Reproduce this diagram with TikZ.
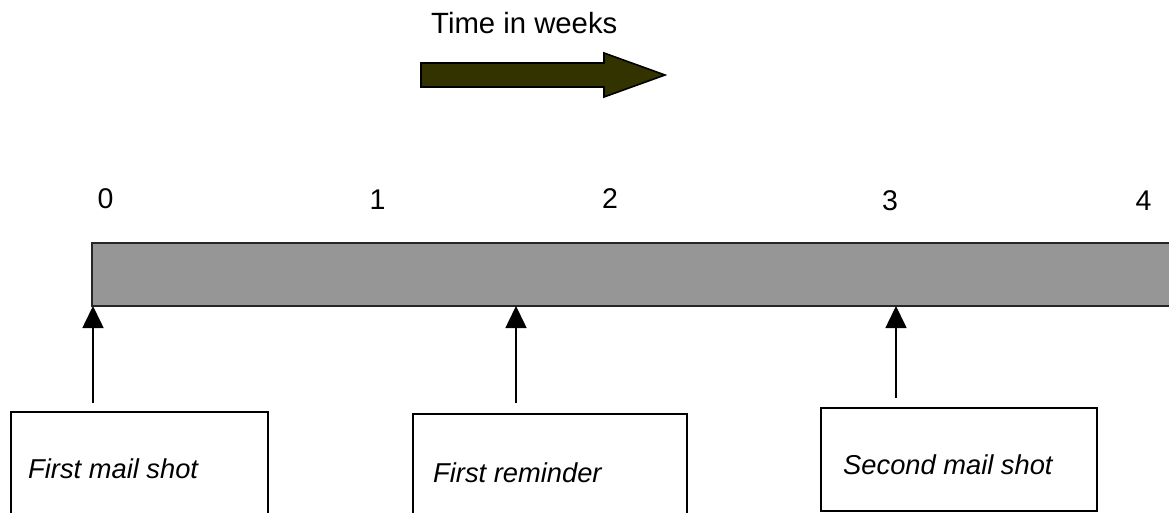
\documentclass[tikz,border=0pt]{standalone}
\usepackage{fontspec}
\setmainfont{Liberation Sans}
\usetikzlibrary{arrows.meta}
\definecolor{barfill}{HTML}{969696}
\definecolor{olive}{HTML}{333300}
\tikzset{
  bar/.style={draw=black!85, line width=1.8pt, fill=barfill, inner sep=0pt, outer sep=0pt},
  notebox/.style={draw=black, line width=1.9pt, fill=white, inner sep=0pt, outer sep=0pt, anchor=north west},
  weeknum/.style={inner sep=0pt, anchor=base, font=\fontsize{28.5}{33}\selectfont},
  notetext/.style={inner sep=0pt, anchor=base west, font=\fontsize{27.3}{31}\selectfont\itshape},
  pointer/.style={line width=1.6pt, -{Triangle[width=21pt,length=22pt]}},
}
\begin{document}
\begin{tikzpicture}[x=1pt, y=-1pt]
\useasboundingbox (0,0) rectangle (1169,513);
\clip (0,0) rectangle (1169,513);

% heading and direction arrow
\node[inner sep=0pt, anchor=base west, font=\fontsize{29.3}{34}\selectfont] (title) at (431,33.3) {Time in weeks};
\draw[fill=olive, draw=black, line width=1.6pt, line join=miter]
  (421,63) -- (604,63) -- (604,53) -- (665,75) -- (604,97) -- (604,87) -- (421,87) -- cycle;

% week numbers
\node[weeknum] (w0) at (105.5,208) {0};
\node[weeknum] (w1) at (377.5,209) {1};
\node[weeknum] (w2) at (610,208) {2};
\node[weeknum] (w3) at (890,210) {3};
\node[weeknum] (w4) at (1143.5,210) {4};

% time bar
\node[bar, anchor=north west, minimum width=1100pt, minimum height=63pt] (bar) at (92,243) {};

% event boxes
\node[notebox, minimum width=257pt, minimum height=120pt] (b1) at (11,412) {};
\node[notebox, minimum width=274pt, minimum height=120pt] (b2) at (413,414) {};
\node[notebox, minimum width=276pt, minimum height=103pt] (b3) at (821,408) {};

\node[notetext] (t1) at (28,478) {First mail shot};
\node[notetext] (t2) at (433,482) {First reminder};
\node[notetext] (t3) at (843,474) {Second mail shot};

% pointers from the events to the bar
\coordinate (s1) at (93,403);
\coordinate (s2) at (516,403);
\coordinate (s3) at (896,398);
\draw[pointer] (s1) -- (s1 |- bar.south);
\draw[pointer] (s2) -- (s2 |- bar.south);
\draw[pointer] (s3) -- (s3 |- bar.south);
\end{tikzpicture}
\end{document}
